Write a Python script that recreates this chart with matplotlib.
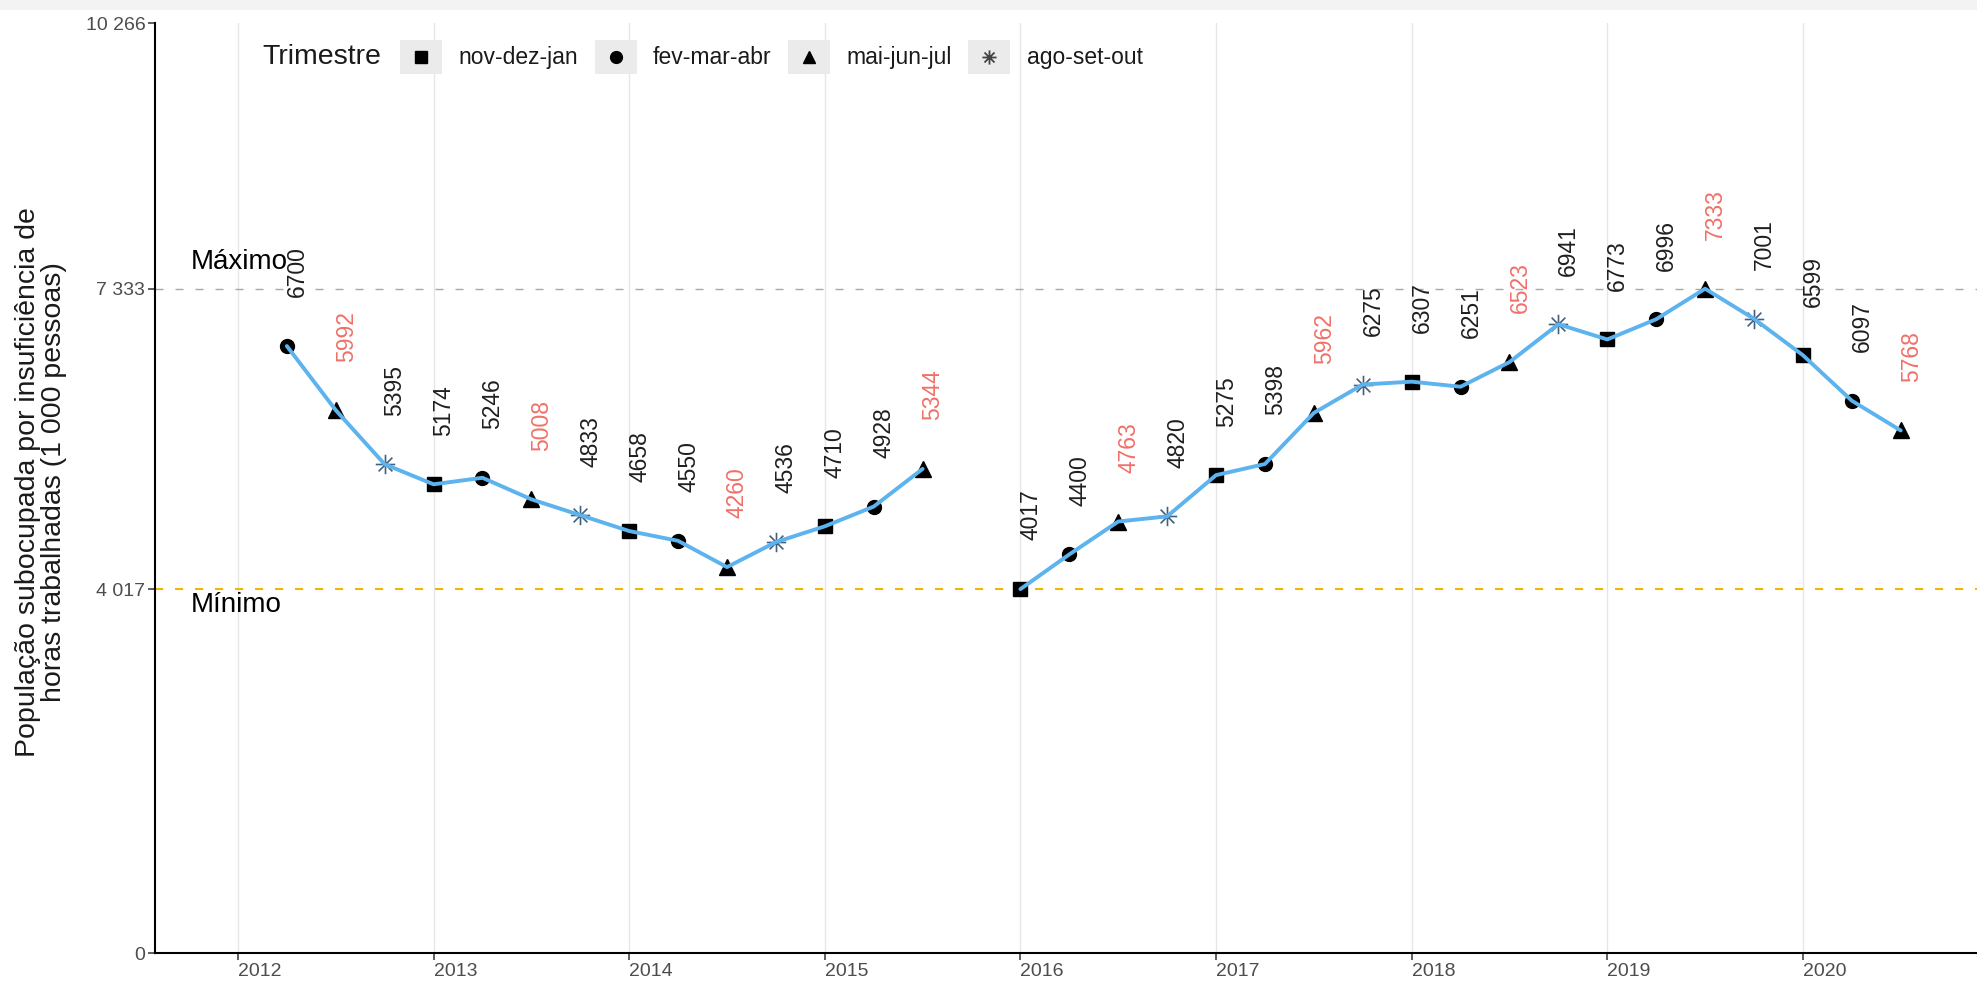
import matplotlib.pyplot as plt
import numpy as np
from matplotlib.path import Path
from matplotlib.patches import Rectangle
from matplotlib.lines import Line2D
from matplotlib.legend_handler import HandlerBase

plt.rcParams['font.family'] = ['Liberation Sans', 'DejaVu Sans']

# trimestres moveis e posicao dentro do ano
trimestres = ['nov-dez-jan', 'fev-mar-abr', 'mai-jun-jul', 'ago-set-out']
desloc = {'nov-dez-jan': 0.0, 'fev-mar-abr': 0.25, 'mai-jun-jul': 0.5, 'ago-set-out': 0.75}

# primeiro trecho (2012 - 2015)
serie1_ano = [2012, 2012, 2012, 2013, 2013, 2013, 2013, 2014, 2014, 2014, 2014, 2015, 2015, 2015]
serie1_tri = ['fev-mar-abr', 'mai-jun-jul', 'ago-set-out',
              'nov-dez-jan', 'fev-mar-abr', 'mai-jun-jul', 'ago-set-out',
              'nov-dez-jan', 'fev-mar-abr', 'mai-jun-jul', 'ago-set-out',
              'nov-dez-jan', 'fev-mar-abr', 'mai-jun-jul']
serie1_val = [6700, 5992, 5395, 5174, 5246, 5008, 4833, 4658, 4550, 4260, 4536, 4710, 4928, 5344]

# segundo trecho (2016 - 2020)
serie2_ano = [2016, 2016, 2016, 2016, 2017, 2017, 2017, 2017, 2018, 2018, 2018, 2018,
              2019, 2019, 2019, 2019, 2020, 2020, 2020]
serie2_tri = ['nov-dez-jan', 'fev-mar-abr', 'mai-jun-jul', 'ago-set-out'] * 4 + \
             ['nov-dez-jan', 'fev-mar-abr', 'mai-jun-jul']
serie2_val = [4017, 4400, 4763, 4820, 5275, 5398, 5962, 6275, 6307, 6251, 6523, 6941,
              6773, 6996, 7333, 7001, 6599, 6097, 5768]

anos = list(range(2012, 2021))

titulo_y = "População subocupada por insuficiência de\nhoras trabalhadas (1 000 pessoas)"

asterisco = Path([(-1, 0), (1, 0), (0, -1), (0, 1),
                  (-0.707, -0.707), (0.707, 0.707), (-0.707, 0.707), (0.707, -0.707)],
                 [Path.MOVETO, Path.LINETO] * 4)
marcadores = {'nov-dez-jan': 's', 'fev-mar-abr': 'o', 'mai-jun-jul': '^', 'ago-set-out': asterisco}
tamanhos = {'nov-dez-jan': 9.5, 'fev-mar-abr': 10, 'mai-jun-jul': 11, 'ago-set-out': 14}

azul = '#5CB3EE'
vermelho = '#F07068'
escuro = '#1F1F1F'


def formata(v):
    return "{:,}".format(int(round(v))).replace(',', ' ')


class ChaveHandler(HandlerBase):
    def create_artists(self, legend, orig_handle, xdescent, ydescent,
                       width, height, fontsize, trans):
        fundo = Rectangle((-xdescent, -ydescent), width, height,
                          facecolor='#EBEBEB', edgecolor='none', transform=trans)
        marca = Line2D([width / 2 - xdescent], [height / 2 - ydescent],
                       marker=orig_handle.get_marker(), ls='none',
                       ms=orig_handle.get_markersize() * 0.85,
                       color=orig_handle.get_color(),
                       mew=orig_handle.get_markeredgewidth(), transform=trans)
        return [fundo, marca]


fig = plt.figure(figsize=(19.77, 9.88), dpi=100)
fig.add_artist(Rectangle((0, 1 - 10 / 988), 1, 10 / 988, transform=fig.transFigure,
                         facecolor='#F3F3F3', edgecolor='none'))
ax = fig.add_axes([155 / 1977, 1 - 953 / 988, 1 - 155 / 1977, (953 - 23) / 988])

todos = serie1_val + serie2_val
vmax = max(todos)
vmin = min(todos)
topo = vmax * 1.4

for ano_l, tri_l, val_l in [(serie1_ano, serie1_tri, serie1_val),
                            (serie2_ano, serie2_tri, serie2_val)]:
    x = np.array([a + desloc[t] for a, t in zip(ano_l, tri_l)])
    y = np.array(val_l)
    tri_arr = np.array(tri_l)
    for t in trimestres:
        m = tri_arr == t
        if t == 'ago-set-out':
            ax.plot(x[m], y[m], ls='none', marker=marcadores[t], ms=tamanhos[t],
                    color='#42607E', mew=1.2, zorder=3)
        else:
            ax.plot(x[m], y[m], ls='none', marker=marcadores[t], ms=tamanhos[t],
                    color='black', zorder=3)
    ax.plot(x, y, color=azul, lw=2.8, zorder=4, solid_capstyle='round')
    for xi, yi, t in zip(x, y, tri_l):
        cor = vermelho if t == 'mai-jun-jul' else escuro
        ax.annotate(str(yi), (xi, yi), xytext=(7.5, 35), textcoords='offset points',
                    rotation=90, ha='center', va='bottom', fontsize=16.5, color=cor,
                    zorder=5)

ax.axhline(vmax, color='#A8A8A8', lw=1.0, ls=(0, (5.8, 8.6)), zorder=2)
ax.axhline(vmin, color='#F2B705', lw=1.5, ls=(0, (3.9, 5.7)), zorder=2)
ax.annotate('Máximo', (2011.76, vmax), xytext=(0, 14), textcoords='offset points',
            ha='left', va='baseline', fontsize=20, color='black')
ax.annotate('Mínimo', (2011.76, vmin), xytext=(0, -2), textcoords='offset points',
            ha='left', va='top', fontsize=20, color='black')

ax.set_xlim(2011.576, 2020.89)
ax.set_ylim(0, topo)
ax.set_xticks(anos)
ax.set_xticklabels([str(a) for a in anos])
for lbl in ax.get_xticklabels():
    lbl.set_ha('left')
ax.set_yticks([0, vmin, vmax, topo])
ax.set_yticklabels([formata(v) for v in [0, vmin, vmax, topo]])
ax.tick_params(labelsize=14, labelcolor='#4D4D4D', color='#333333', length=5, width=1.1, pad=2)
ax.grid(axis='x', color='#E6E6E6', lw=1)
ax.set_axisbelow(True)
for s in ['top', 'right']:
    ax.spines[s].set_visible(False)
for s in ['left', 'bottom']:
    ax.spines[s].set_linewidth(1.5)
    ax.spines[s].set_color('black')

fig.text(41 / 1977, 0.512, titulo_y, rotation=90, ha='center', va='center',
         multialignment='center', fontsize=20.5, linespacing=1.02, color='#1A1A1A')

fig.text(262 / 1977, 1 - 57 / 988, 'Trimestre', ha='left', va='center', fontsize=20.5,
         color='#1A1A1A')
alcas = []
for t in trimestres:
    if t == 'ago-set-out':
        alcas.append(Line2D([], [], marker=marcadores[t], ls='none', ms=12,
                            color='#444444', mew=1.3))
    else:
        alcas.append(Line2D([], [], marker=marcadores[t], ls='none', ms=tamanhos[t],
                            color='black'))
leg = ax.legend(alcas, trimestres, handler_map={Line2D: ChaveHandler()},
                loc='center left', bbox_to_anchor=(400 / 1977, 1 - 57 / 988),
                bbox_transform=fig.transFigure, ncol=4, frameon=False,
                borderpad=0, borderaxespad=0, handlelength=1.83, handleheight=1.88,
                handletextpad=0.72, columnspacing=0.72, fontsize=16.5)
for txt in leg.get_texts():
    txt.set_color('#1A1A1A')

fig.savefig('out.png', dpi=100)
